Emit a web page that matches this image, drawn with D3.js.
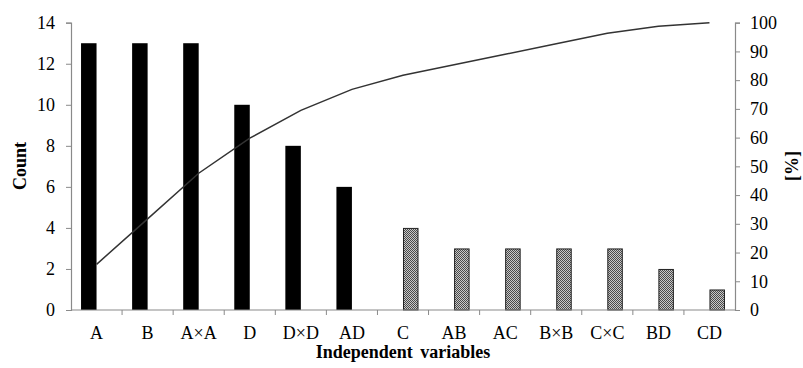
<!DOCTYPE html>
<html>
<head>
<meta charset="utf-8">
<script src="https://cdn.jsdelivr.net/npm/d3@7"></script>
<style>
  body { margin: 0; background: #fff; }
  svg text { font-family: "Liberation Serif", "Times New Roman", serif !important; }
</style>
</head>
<body>
<script>
// pareto chart: counts per factor + cumulative percent
var categories = ['A', 'B', 'A\u00d7A', 'D', 'D\u00d7D', 'AD', 'C', 'AB', 'AC', 'B\u00d7B', 'C\u00d7C', 'BD', 'CD'];
var significant = [13, 13, 13, 10, 8, 6, 0, 0, 0, 0, 0, 0, 0];
var other = [0, 0, 0, 0, 0, 0, 4, 3, 3, 3, 3, 2, 1];
var cumulative = [15.9, 31.7, 47.6, 59.8, 69.5, 76.8, 81.7, 85.4, 89.0, 92.7, 96.3, 98.8, 100];
var countTicks = [0, 2, 4, 6, 8, 10, 12, 14];
var percentTicks = [0, 10, 20, 30, 40, 50, 60, 70, 80, 90, 100];
var series = ['significant', 'other'];

window.onload = function() {
  var width = 803;
  var height = 368;
  var left = 71, right = 735, top = 22.7, bottom = 310;

  var svg = d3.select('body').append('svg')
              .attr('width', width)
              .attr('height', height);

  var defs = svg.append('defs');
  var pat = defs.append('pattern')
                .attr('id', 'stipple')
                .attr('width', 2)
                .attr('height', 2)
                .attr('patternUnits', 'userSpaceOnUse');
  pat.append('rect').attr('width', 2).attr('height', 2).attr('fill', '#c8c8c8');
  pat.append('rect').attr('width', 1).attr('height', 1).attr('fill', '#4a4a4a');
  pat.append('rect').attr('x', 1).attr('y', 1).attr('width', 1).attr('height', 1).attr('fill', '#4a4a4a');

  var x = d3.scaleBand().domain(categories).range([left, right]);
  var sub = d3.scaleBand().domain(series).range([-15.5, 15.5]);
  var y = d3.scaleLinear().domain([0, 14]).range([bottom, top]);
  var yp = d3.scaleLinear().domain([0, 100]).range([bottom, top]);

  var axisColor = '#8a8a8a';

  var rows = categories.map(function(c, i) {
    return { cat: c, significant: significant[i], other: other[i], cum: cumulative[i] };
  });

  // bars
  svg.selectAll('.bar-sig').data(rows.filter(function(d) { return d.significant > 0; }))
     .enter().append('rect')
     .attr('class', 'bar-sig')
     .attr('x', function(d) { return x(d.cat) + x.bandwidth() / 2 + sub('significant'); })
     .attr('width', sub.bandwidth())
     .attr('y', function(d) { return y(d.significant); })
     .attr('height', function(d) { return y(0) - y(d.significant); })
     .attr('fill', '#000');

  svg.selectAll('.bar-oth').data(rows.filter(function(d) { return d.other > 0; }))
     .enter().append('rect')
     .attr('class', 'bar-oth')
     .attr('x', function(d) { return x(d.cat) + x.bandwidth() / 2 + sub('other') + 0.5; })
     .attr('width', sub.bandwidth() - 1)
     .attr('y', function(d) { return y(d.other) + 0.5; })
     .attr('height', function(d) { return y(0) - y(d.other) - 0.5; })
     .attr('fill', 'url(#stipple)')
     .attr('stroke', '#222')
     .attr('stroke-width', 1);

  // cumulative line
  var line = d3.line()
               .x(function(d) { return x(d.cat) + x.bandwidth() / 2; })
               .y(function(d) { return yp(d.cum); });
  svg.append('path').datum(rows)
     .attr('d', line)
     .attr('fill', 'none')
     .attr('stroke', '#333')
     .attr('stroke-width', 1.5);

  // axes
  var gl = svg.append('g').attr('transform', 'translate(' + left + ',0)')
              .call(d3.axisLeft(y).tickValues(countTicks).tickSize(5).tickPadding(11));
  var gr = svg.append('g').attr('transform', 'translate(' + right + ',0)')
              .call(d3.axisRight(yp).tickValues(percentTicks).tickSize(5).tickPadding(10));
  var gx = svg.append('g').attr('transform', 'translate(0,' + bottom + ')')
              .call(d3.axisBottom(x).tickSize(0).tickPadding(16));

  // category boundary ticks on x axis
  gx.selectAll('.sep').data(categories.slice(1))
    .enter().append('line')
    .attr('class', 'sep')
    .attr('x1', function(d) { return x(d); })
    .attr('x2', function(d) { return x(d); })
    .attr('y1', 0).attr('y2', 5)
    .attr('stroke', axisColor);

  [gl, gr, gx].forEach(function(g) {
    g.attr('font-family', null).attr('font-size', null);
    g.selectAll('.domain').attr('stroke', axisColor).attr('stroke-width', 1.2);
    g.selectAll('.tick line').attr('stroke', axisColor);
    g.selectAll('text')
     .attr('font-family', 'Liberation Serif')
     .attr('font-size', 18)
     .attr('fill', '#000');
  });
  gx.select('.domain').attr('d', 'M' + left + ',0H' + right);

  // titles
  svg.append('text')
     .attr('transform', 'translate(26,166) rotate(-90)')
     .attr('text-anchor', 'middle')
     .attr('font-weight', 'bold')
     .attr('font-size', 18)
     .text('Count');

  svg.append('text')
     .attr('transform', 'translate(798,166) rotate(-90)')
     .attr('text-anchor', 'middle')
     .attr('font-weight', 'bold')
     .attr('font-size', 18)
     .text('[%]');

  svg.append('text')
     .attr('x', 403)
     .attr('y', 358)
     .attr('text-anchor', 'middle')
     .attr('font-weight', 'bold')
     .attr('font-size', 18)
     .attr('word-spacing', 3)
     .text('Independent variables');
};
</script>
</body>
</html>
